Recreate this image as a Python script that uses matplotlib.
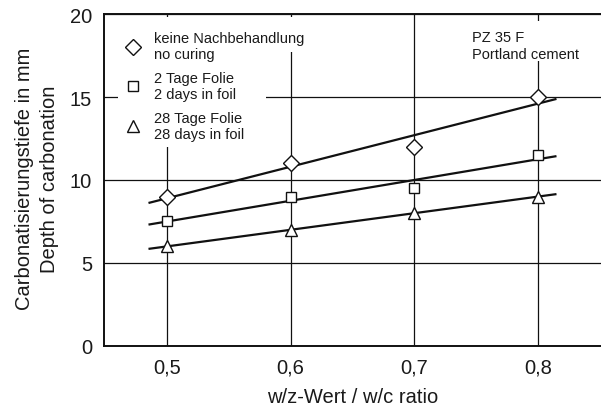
import numpy as np
import matplotlib
matplotlib.use("Agg")
import matplotlib.pyplot as plt
from matplotlib.lines import Line2D
from matplotlib.patches import Rectangle

plt.rcParams["font.family"] = ["Liberation Sans", "DejaVu Sans"]

# w/c ratios and measured carbonation depths (mm)
wc_ratio = [0.5, 0.6, 0.7, 0.8]
depth_no_curing = [9.0, 11.0, 12.0, 15.0]
depth_2_days_foil = [7.5, 9.0, 9.5, 11.5]
depth_28_days_foil = [6.0, 7.0, 8.0, 9.0]

series_labels = [
    "keine Nachbehandlung\nno curing",
    "2 Tage Folie\n2 days in foil",
    "28 Tage Folie\n28 days in foil",
]
series_markers = ["D", "s", "^"]
series_sizes = [8.0, 7.5, 8.5]

x_ticks = [0.5, 0.6, 0.7, 0.8]
x_tick_labels = ["0,5", "0,6", "0,7", "0,8"]
y_ticks = [0, 5, 10, 15, 20]
y_tick_labels = ["0", "5", "10", "15", "20"]

fit_x = np.array([0.485, 0.815])

fig = plt.figure(figsize=(6.01, 4.10), dpi=100)
ax = fig.add_axes([0.173, 0.1537, 0.827, 0.8097])
ax.set_xlim(0.449, 0.851)
ax.set_ylim(0, 20)

ax.set_xticks(x_ticks)
ax.set_xticklabels(x_tick_labels)
ax.set_yticks(y_ticks)
ax.set_yticklabels(y_tick_labels)
ax.tick_params(axis="both", length=0, labelsize=14.5, colors="#1a1a1a")
ax.tick_params(axis="x", pad=8)
ax.tick_params(axis="y", pad=8.5)

ax.grid(True, color="#111111", linewidth=0.9, zorder=1)
ax.set_axisbelow(True)
for side in ("left", "bottom", "top"):
    ax.spines[side].set_linewidth(1.4)
    ax.spines[side].set_color("#111111")
ax.spines["right"].set_visible(False)

# white areas behind the key and the cement note
for (x0, y0, w, h) in [(0.028, 0.599, 0.298, 0.392),
                       (0.028, 0.886, 0.386, 0.105),
                       (0.728, 0.858, 0.250, 0.121)]:
    ax.add_patch(Rectangle((x0, y0), w, h, transform=ax.transAxes,
                           facecolor="white", edgecolor="none", zorder=2))

handles = []
for values, marker, ms in zip(
        [depth_no_curing, depth_2_days_foil, depth_28_days_foil],
        series_markers, series_sizes):
    slope, intercept = np.polyfit(wc_ratio, values, 1)
    ax.plot(fit_x, slope * fit_x + intercept, color="#111111",
            linewidth=1.6, zorder=3, solid_capstyle="butt")
    ax.plot(wc_ratio, values, linestyle="none", marker=marker,
            markersize=ms, markerfacecolor="white",
            markeredgecolor="#111111", markeredgewidth=1.0, zorder=4)
    handles.append(Line2D([], [], linestyle="none", marker=marker,
                          markersize=ms, markerfacecolor="white",
                          markeredgecolor="#111111", markeredgewidth=1.0))

leg = ax.legend(handles, series_labels, loc="upper left",
                bbox_to_anchor=(0.043, 0.9475), frameon=False,
                fontsize=10.5, handlelength=1.0, handletextpad=0.95,
                borderpad=0, borderaxespad=0, labelspacing=0.69)
for t in leg.get_texts():
    t.set_linespacing(1.15)
    t.set_color("#1a1a1a")
leg.set_zorder(5)

ax.text(0.741, 0.952, "PZ 35 F\nPortland cement", transform=ax.transAxes,
        ha="left", va="top", fontsize=10.5, linespacing=1.3,
        color="#1a1a1a", zorder=5)

fig.text(37 / 601, (410 - 179) / 410,
         "Carbonatisierungstiefe in mm\nDepth of carbonation",
         rotation=90, ha="center", va="center", multialignment="center",
         fontsize=14.5, linespacing=1.45, color="#1a1a1a")
fig.text(353 / 601, (410 - 398) / 410, "w/z-Wert / w/c ratio",
         ha="center", va="center", fontsize=14.5, color="#1a1a1a")

fig.savefig("out.png", dpi=100)
